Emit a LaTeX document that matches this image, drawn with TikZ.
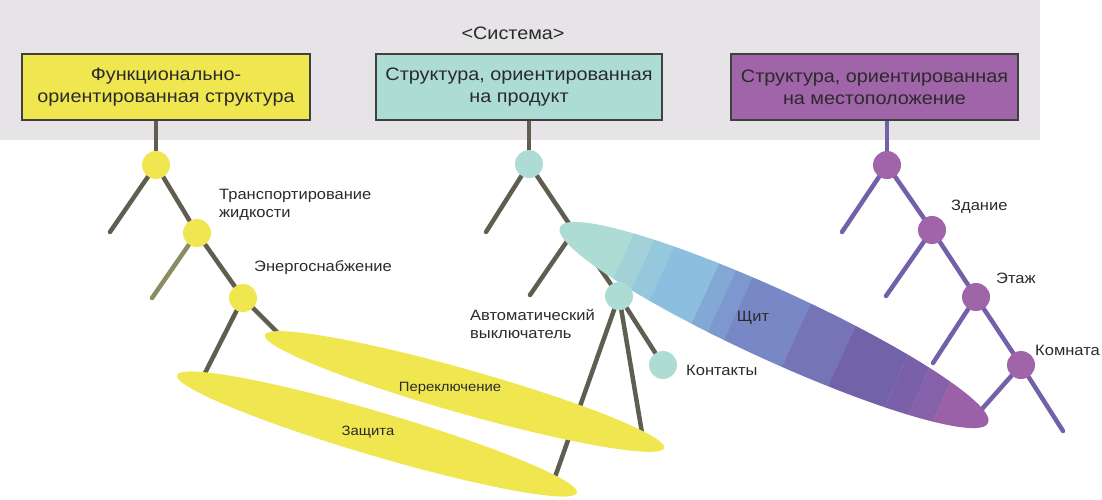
\documentclass[tikz,border=0pt]{standalone}
\usepackage{fontspec}
\setmainfont{Liberation Sans}[FakeStretch=1.1]
\usetikzlibrary{shapes.geometric}
\definecolor{bggray}{HTML}{E6E4E6}
\definecolor{yel}{HTML}{F0E650}
\definecolor{teal2}{HTML}{ADDCD4}
\definecolor{purp}{HTML}{A064A8}
\definecolor{purpline}{HTML}{7260A8}
\definecolor{treeline}{HTML}{5F5E50}
\definecolor{oliveline}{HTML}{8C8C64}
\definecolor{boxborder}{HTML}{404040}
\definecolor{txt}{HTML}{2A2A2A}
\definecolor{sA}{HTML}{ADDCD4}
\definecolor{sB}{HTML}{A2D2D8}
\definecolor{sC}{HTML}{96C8DC}
\definecolor{sD}{HTML}{8CBEE0}
\definecolor{sE}{HTML}{84A8D6}
\definecolor{sF}{HTML}{7C98CE}
\definecolor{sG}{HTML}{7888C6}
\definecolor{sH}{HTML}{7474B6}
\definecolor{sI}{HTML}{7262AA}
\definecolor{sJ}{HTML}{7A60A8}
\definecolor{sK}{HTML}{8660A8}
\definecolor{sL}{HTML}{9A60A8}
\pgfdeclarelayer{bglayer}
\pgfdeclarelayer{linelayer}
\pgfsetlayers{bglayer,linelayer,main}
\begin{document}
\begin{tikzpicture}[x=1pt,y=-1pt,
  box/.style={draw=boxborder, line width=1.5pt, minimum height=66pt, align=center,
    font=\fontsize{18}{22}\selectfont, text=txt, inner sep=0pt},
  dot/.style={circle, minimum size=28pt, inner sep=0pt},
  lab/.style={font=\fontsize{15}{18.5}\selectfont, text=txt, inner sep=0pt, align=left, anchor=west},
  clab/.style={font=\fontsize{13.5}{18}\selectfont, text=txt, inner sep=0pt},
  tl/.style={line width=4.5pt, draw=treeline, line cap=round},
  pl/.style={line width=4.5pt, draw=purpline, line cap=round},
  blob/.style={ellipse, inner sep=0pt, fill=yel}
]
\useasboundingbox (0,0) rectangle (1102,500);
\begin{pgfonlayer}{bglayer}
  \fill[bggray] (0,0) rectangle (1040,140);
\end{pgfonlayer}
\node[clab, font=\fontsize{18}{20}\selectfont] (sys) at (513,33) {<Система>};
% boxes
\node[box, fill=yel, minimum width=288pt] (b1) at (166,87) {Функционально-\\ориентированная структура};
\node[box, fill=teal2, minimum width=286pt] (b2) at (519,87) {Структура, ориентированная\\на продукт};
\node[box, fill=purp, minimum width=287pt] (b3) at (874.5,87) {Структура, ориентированная\\на местоположение};
% yellow ellipses
\node[blob, minimum width=415pt, minimum height=44pt, rotate=-15.8] (perekl) at (464.5,391.5) {};
\node[blob, minimum width=417pt, minimum height=44pt, rotate=-16.4] (zash) at (377,434) {};
% shield ellipse with bands
\begin{scope}[shift={(774,325)}, rotate=-24.6]
  \clip (0pt,0pt) ellipse [x radius=235.5pt, y radius=35pt];
  \fill[sA] (-240pt,-40pt) rectangle (-165.5pt,40pt);
  \fill[sB] (-165.6pt,-40pt) rectangle (-144.5pt,40pt);
  \fill[sC] (-144.6pt,-40pt) rectangle (-123.5pt,40pt);
  \fill[sD] (-123.6pt,-40pt) rectangle (-75.5pt,40pt);
  \fill[sE] (-75.6pt,-40pt) rectangle (-57.5pt,40pt);
  \fill[sF] (-57.6pt,-40pt) rectangle (-39.5pt,40pt);
  \fill[sG] (-39.6pt,-40pt) rectangle (24.5pt,40pt);
  \fill[sH] (24.4pt,-40pt) rectangle (74.5pt,40pt);
  \fill[sI] (74.4pt,-40pt) rectangle (134.5pt,40pt);
  \fill[sJ] (134.4pt,-40pt) rectangle (159.5pt,40pt);
  \fill[sK] (159.4pt,-40pt) rectangle (184.5pt,40pt);
  \fill[sL] (184.4pt,-40pt) rectangle (240pt,40pt);
\end{scope}
% tree 1 nodes
\node[dot, fill=yel] (f1) at (156,165) {};
\node[dot, fill=yel] (f2) at (197,233) {};
\node[dot, fill=yel] (f3) at (243,298) {};
\coordinate (f1l) at (110,232);
\coordinate (f2l) at (152,298);
\coordinate (f3l) at (205,373);
\coordinate (f3r) at (277,332);
% tree 2 nodes
\node[dot, fill=teal2] (p1) at (529,164) {};
\coordinate (p2) at (574,231);
\node[dot, fill=teal2] (p3) at (619,296) {};
\node[dot, fill=teal2] (p4) at (663,365) {};
\coordinate (p1l) at (486,232);
\coordinate (p2l) at (530,295);
\coordinate (p3a) at (555,477);
\coordinate (p3b) at (642,433);
% tree 3 nodes
\node[dot, fill=purp] (m1) at (887,165) {};
\node[dot, fill=purp] (m2) at (932,230) {};
\node[dot, fill=purp] (m3) at (976,297) {};
\node[dot, fill=purp] (m4) at (1021,365) {};
\coordinate (m1l) at (842,232);
\coordinate (m2l) at (886,296);
\coordinate (m3l) at (933,363);
\coordinate (m4l) at (982,409);
\coordinate (m4r) at (1063,431);
% connectors
\begin{pgfonlayer}{linelayer}
  \draw[tl, line cap=butt] (b1.south -| f1) -- (f1);
  \draw[tl] (f1) -- (f1l);
  \draw[tl] (f1) -- (f2);
  \draw[tl, draw=oliveline] (f2) -- (f2l);
  \draw[tl] (f2) -- (f3);
  \draw[tl] (f3) -- (f3l);
  \draw[tl] (f3) -- (f3r);
  \draw[tl, line cap=butt] (b2.south -| p1) -- (p1);
  \draw[tl] (p1) -- (p1l);
  \draw[tl] (p1) -- (p2);
  \draw[tl] (p2) -- (p2l);
  \draw[tl] (p2) -- (p3);
  \draw[tl] (p3) -- (p3a);
  \draw[tl] (p3) -- (p3b);
  \draw[tl] (p3) -- (p4);
  \draw[pl, line cap=butt] (b3.south -| m1) -- (m1);
  \draw[pl] (m1) -- (m1l);
  \draw[pl] (m1) -- (m2);
  \draw[pl] (m2) -- (m2l);
  \draw[pl] (m2) -- (m3);
  \draw[pl] (m3) -- (m3l);
  \draw[pl] (m3) -- (m4);
  \draw[pl] (m4) -- (m4l);
  \draw[pl] (m4) -- (m4r);
\end{pgfonlayer}
% labels
\node[lab] (lt) at (219,205) {Транспортирование\\жидкости};
\node[lab] (le) at (254,268) {Энергоснабжение};
\node[lab] (la) at (470,324) {Автоматический\\выключатель};
\node[lab] (lk) at (686,370) {Контакты};
\node[lab, anchor=center] (lsh) at (753,318) {Щит};
\node[clab] (lp) at (450,388) {Переключение};
\node[clab] (lz) at (368,432) {Защита};
\node[lab] (lzd) at (951,207) {Здание};
\node[lab] (let) at (996,278) {Этаж};
\node[lab] (lkm) at (1035,350) {Комната};
\end{tikzpicture}
\end{document}
